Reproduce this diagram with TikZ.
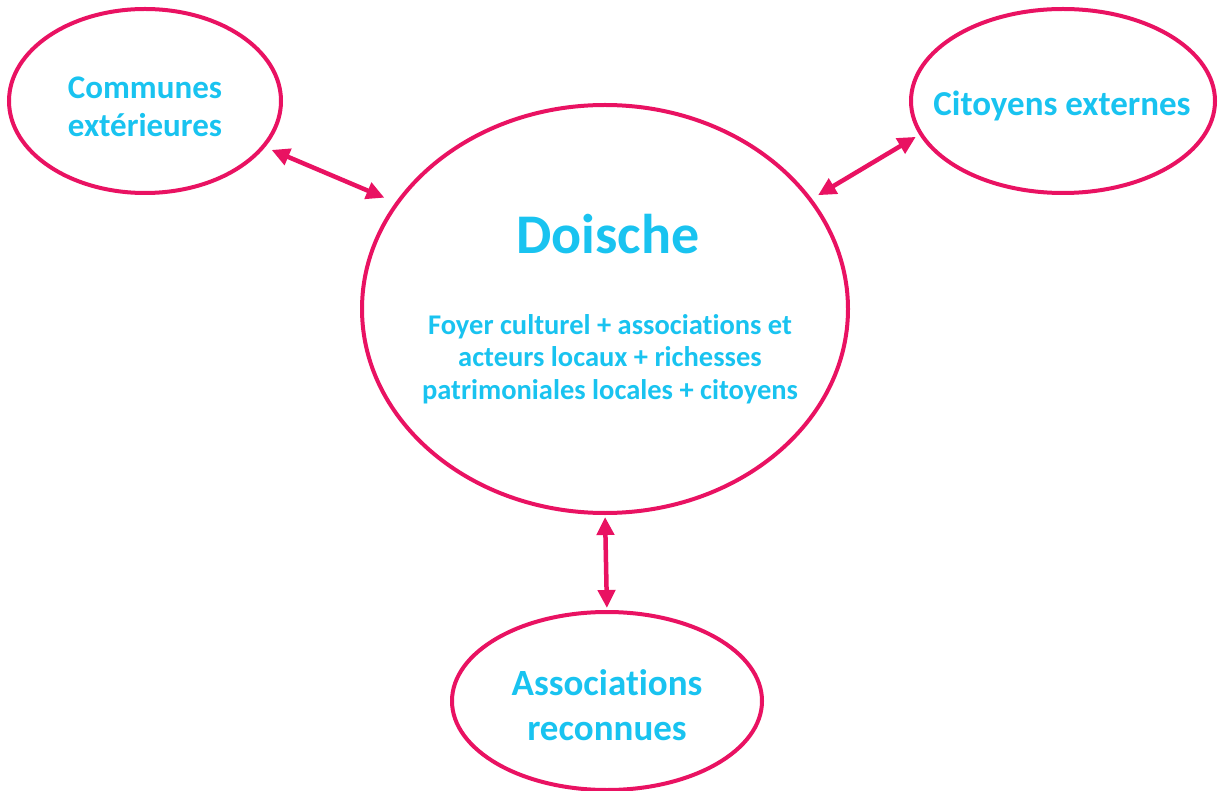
\documentclass[tikz,border=0pt]{standalone}
\usepackage{fontspec}
\setmainfont{Carlito}[Ligatures=NoCommon]
\usetikzlibrary{shapes.geometric,arrows.meta}
\definecolor{rose}{RGB}{233,18,98}
\definecolor{ciel}{RGB}{25,195,240}
\tikzset{
  bulle/.style={ellipse,draw=rose,line width=4pt,inner sep=0pt,outer sep=0pt},
  lien/.style={draw=rose,line width=4.5pt,
    {Triangle[length=18pt,width=17pt]}-{Triangle[length=18pt,width=17pt]}},
  texte/.style={text=ciel,font=\bfseries,align=center}
}
\begin{document}
\begin{tikzpicture}[x=1pt,y=-1pt]
\useasboundingbox (0,0) rectangle (1218,791);

% Ellipses
\node[bulle,minimum width=272,minimum height=184] (communes) at (145,101) {};
\node[bulle,minimum width=304,minimum height=184] (citoyens) at (1063,101) {};
\node[bulle,minimum width=486,minimum height=408] (doische) at (605,309) {};
\node[bulle,minimum width=310,minimum height=178] (assoc) at (607,701) {};

% Text Node
\node[texte,font=\bfseries\fontsize{33}{38}\selectfont] (tcommunes) at (145,107) {Communes\\extérieures};
% Text Node
\node[texte,font=\bfseries\fontsize{35}{40}\selectfont] (tcitoyens) at (1062,106) {Citoyens externes};
% Text Node
\node[texte,font=\bfseries\fontsize{37}{45}\selectfont] (tassoc) at (607,705) {Associations\\reconnues};
% Text Node
\node[texte,font=\bfseries\fontsize{56}{60}\selectfont,anchor=base] (titre) at (608,254) {Doische};
% Text Node
\node[texte,font=\bfseries\fontsize{28.5}{32.5}\selectfont] (corps) at (610,359)
  {Foyer culturel + associations et\\acteurs locaux + richesses\\patrimoniales locales + citoyens};

% Arrows
\draw[lien,shorten <=9pt,shorten >=14pt] (communes.-21) -- (doische.153);
\draw[lien,shorten <=9pt,shorten >=6pt] (doische.28) -- (citoyens.193);
\draw[lien,shorten <=4pt,shorten >=4pt] (doische.south) -- (assoc.north);

\end{tikzpicture}
\end{document}
